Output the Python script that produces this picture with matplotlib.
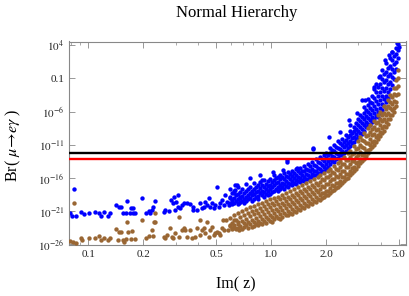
import numpy as np
import matplotlib.pyplot as plt
from matplotlib.ticker import FixedLocator, FixedFormatter, NullFormatter, NullLocator

plt.rcParams['font.family'] = ['Liberation Serif', 'DejaVu Serif']
plt.rcParams['mathtext.fontset'] = 'stix'

# experimental limits (horizontal lines)
br_black = 5.7e-13
br_red = 7e-14

# isolated points, (Im z, log10 Br)
blue_pts = [
    (0.083, -17.65), (0.0795, -21.3), (0.0815, -21.67), (0.085, -21.7), (0.091, -21.07),
    (0.095, -21.46), (0.1005, -21.2), (0.109, -21.07), (0.115, -21.2), (0.117, -21.67),
    (0.121, -21.16), (0.128, -21.7), (0.132, -21.2), (0.141, -20.06), (0.148, -20.4),
    (0.151, -20.4), (0.163, -19.4), (0.154, -21.3), (0.161, -21.2), (0.168, -21.3),
    (0.175, -21.2), (0.179, -21.3), (0.171, -20.47), (0.176, -20.47), (0.197, -19.05),
    (0.207, -21.3), (0.214, -20.9), (0.227, -20.4), (0.233, -19.4), (0.218, -21.3),
    (0.222, -20.8), (0.258, -21.07), (0.263, -20.81), (0.275, -20.92), (0.283, -19.31),
    (0.290, -19.8), (0.295, -18.81), (0.303, -19.56), (0.311, -18.56), (0.299, -20.81),
    (0.308, -20.32), (0.316, -20.56), (0.325, -20.06), (0.332, -19.8), (0.346, -19.8),
    (0.358, -19.91), (0.373, -20.32), (0.376, -20.81), (0.393, -20.81),
    (0.410, -19.8), (0.418, -20.56), (0.427, -20.32), (0.436, -19.56), (0.446, -20.06),
    (0.455, -19.05), (0.465, -20.32), (0.475, -19.8), (0.485, -20.56), (0.495, -20.06),
    (0.506, -17.4), (0.516, -20.32), (0.527, -19.8), (0.539, -19.31), (0.550, -20.06),
    (0.562, -18.56), (0.574, -19.56), (0.586, -20.06), (0.598, -19.05), (0.611, -19.8),
    (0.624, -18.3), (0.637, -17.8), (0.651, -17.05), (0.665, -19.8), (0.673, -18.8),
    (1.70, -11.53), (1.22, -13.55), (0.874, -15.55), (0.770, -16.05), (0.893, -16.3),
    (0.637, -17.05), (1.03, -15.05), (1.39, -14.54), (1.17, -14.8), (2.07, -9.79),
    (2.40, -9.04), (2.66, -7.28), (2.72, -8.03), (2.96, -6.27), (3.15, -4.27),
    (3.29, -4.27), (3.66, -2.27), (3.89, -0.77), (4.23, 1.74), (4.60, 3.0),
    (4.91, 4.26), (5.02, 3.75), (4.41, 2.5), (1.69, -11.68), (1.22, -13.3),
]
brown_pts = [
    (0.083, -19.7), (0.0795, -25.5), (0.082, -25.6), (0.085, -25.8), (0.091, -25.1),
    (0.092, -25.3), (0.1005, -25.1), (0.109, -25.1), (0.115, -24.8), (0.117, -25.3),
    (0.121, -25.1), (0.128, -25.3), (0.132, -25.1), (0.141, -23.6), (0.148, -24.1),
    (0.151, -24.1), (0.163, -22.6), (0.164, -24.1), (0.173, -23.9), (0.145, -25.3),
    (0.1545, -25.3), (0.161, -25.2), (0.1715, -25.2), (0.179, -25.2), (0.157, -25.6),
    (0.197, -22.3), (0.207, -25.1), (0.214, -24.8), (0.227, -24.8), (0.233, -22.6),
    (0.232, -21.22), (0.228, -22.57), (0.223, -23.82), (0.258, -24.83), (0.263, -25.07),
    (0.269, -24.57), (0.280, -23.56), (0.287, -24.83), (0.292, -25.07), (0.299, -24.32),
    (0.312, -21.82), (0.315, -24.83), (0.325, -23.82), (0.332, -23.56), (0.339, -23.82),
    (0.346, -24.83), (0.358, -23.82), (0.369, -25.07), (0.385, -24.83), (0.393, -23.56),
    (0.406, -22.32), (0.410, -24.57), (0.418, -23.82), (0.427, -23.56), (0.436, -24.32),
    (0.446, -22.57), (0.455, -24.83), (0.465, -23.82), (0.475, -23.32), (0.485, -24.57),
    (0.495, -24.32), (0.506, -24.08), (0.516, -24.32), (0.527, -24.57), (0.539, -23.56),
    (0.545, -22.32), (0.555, -23.82), (0.569, -22.32), (0.578, -23.82), (0.598, -23.07),
    (0.611, -23.56), (0.624, -22.32), (0.637, -23.56), (0.656, -22.57), (0.665, -23.82),
]

# dense band, Im z -> log10 Br values
blue_band = {
    0.598: [-17.6, -18.9, -19.7], 0.613: [-18.3, -19.3, -19.9], 0.629: [-17.9, -19.0, -19.8],
    0.645: [-18.6, -19.5], 0.662: [-17.3, -18.4, -19.2, -19.9], 0.679: [-18.1, -19.0, -19.6],
    0.696: [-17.6, -18.7, -19.4], 0.714: [-18.3, -19.1, -19.8], 0.732: [-16.9, -18.0, -18.8, -19.5],
    0.751: [-17.7, -18.5, -19.2], 0.770: [-17.3, -18.2, -19.0], 0.790: [-17.9, -18.6, -19.4],
    0.810: [-16.8, -17.6, -18.4, -19.1], 0.831: [-17.4, -18.1, -18.9], 0.852: [-17.1, -18.0, -18.7, -19.2],
    0.874: [-16.6, -17.5, -18.3], 0.896: [-17.0, -17.9, -18.6], 0.919: [-16.3, -17.3, -18.1, -18.9],
    0.943: [-16.9, -17.6, -18.4], 0.967: [-16.5, -17.2, -18.0, -18.6], 0.991: [-16.2, -17.0, -17.7, -18.4],
    1.017: [-16.6, -17.4, -18.1], 1.043: [-15.6, -16.3, -17.0, -17.9], 1.069: [-16.0, -16.8, -17.6],
    1.097: [-15.8, -16.6, -17.3, -18.0], 1.125: [-15.5, -16.2, -17.0, -17.7], 1.153: [-15.9, -16.7, -17.4],
    1.183: [-15.3, -16.1, -16.9, -17.6], 1.213: [-15.7, -16.5, -17.2], 1.244: [-15.1, -15.9, -16.7, -17.3],
    1.276: [-15.4, -16.2, -16.9], 1.309: [-14.9, -15.7, -16.5, -17.1], 1.342: [-15.2, -16.0, -16.7],
    1.377: [-14.6, -15.5, -16.3, -16.9], 1.412: [-15.0, -15.8, -16.5], 1.448: [-14.5, -15.3, -16.0, -16.6],
    1.485: [-14.9, -15.6, -16.3], 1.523: [-14.2, -15.0, -15.8, -16.4], 1.562: [-14.6, -15.4, -16.1],
    1.602: [-13.9, -14.8, -15.6, -16.2], 1.642: [-14.2, -15.0, -15.8], 1.684: [-13.6, -14.6, -15.4, -15.9],
    1.728: [-14.0, -14.9, -15.6], 1.772: [-13.2, -14.2, -15.0, -15.6], 1.817: [-13.6, -14.5, -15.3],
    1.863: [-12.9, -13.8, -14.6, -15.2], 1.911: [-13.2, -14.1, -14.9], 1.960: [-12.5, -13.4, -14.3, -15.0],
    2.010: [-12.2, -13.0, -13.9, -14.6], 2.061: [-12.6, -13.5, -14.3], 2.114: [-11.5, -12.3, -13.1, -13.9],
    2.168: [-11.8, -12.7, -13.5], 2.223: [-11.0, -11.9, -12.8, -13.6], 2.280: [-11.4, -12.3, -13.2],
    2.338: [-10.5, -11.5, -12.4, -13.0], 2.398: [-10.8, -11.6, -12.5], 2.459: [-10.2, -11.1, -11.9, -12.5],
    2.522: [-10.6, -11.4, -12.2], 2.587: [-9.5, -10.3, -11.1, -11.9], 2.653: [-9.8, -10.7, -11.5],
    2.720: [-8.9, -9.6, -10.4, -11.2], 2.790: [-9.2, -10.0, -10.8], 2.861: [-8.3, -9.0, -9.8, -10.6],
    2.934: [-7.7, -8.6, -9.4, -10.2], 3.009: [-7.2, -8.1, -9.0, -9.8], 3.086: [-6.6, -7.5, -8.4, -9.3],
    3.165: [-6.9, -7.8, -8.7, -9.4], 3.246: [-5.3, -6.2, -7.2, -8.1, -8.9], 3.329: [-5.8, -6.7, -7.6, -8.4],
    3.414: [-4.1, -5.0, -6.0, -7.0, -7.9], 3.501: [-4.5, -5.5, -6.4, -7.3, -8.0],
    3.591: [-3.6, -4.7, -5.8, -6.8, -7.6], 3.682: [-2.6, -3.9, -5.1, -6.2, -7.2],
    3.776: [-1.8, -3.1, -4.4, -5.6, -6.7], 3.873: [-2.3, -3.6, -4.9, -6.0, -6.8],
    3.972: [-0.6, -1.8, -3.0, -4.2, -5.4, -6.3], 4.073: [0.2, -1.1, -2.4, -3.6, -4.8, -5.8],
    4.177: [-0.3, -1.6, -2.9, -4.1, -5.1], 4.284: [1.3, 0.0, -1.2, -2.4, -3.6, -4.6],
    4.394: [0.6, -0.6, -1.8, -3.0, -4.0], 4.506: [2.1, 0.9, -0.3, -1.5, -2.6],
    4.621: [3.0, 1.7, 0.4, -0.8, -2.0], 4.739: [2.4, 1.2, 0.0, -1.1], 4.861: [3.6, 2.6, 1.5, 0.4],
    4.985: [4.2, 3.2, 2.1],
}
brown_band = {
    0.598: [-22.0, -23.2], 0.613: [-22.7, -23.6], 0.629: [-21.6, -23.0], 0.645: [-22.3, -23.7],
    0.662: [-21.2, -22.9, -23.5], 0.679: [-21.9, -23.2], 0.696: [-21.0, -22.5, -23.6],
    0.714: [-21.6, -22.8, -23.4], 0.732: [-20.7, -22.1, -23.1], 0.751: [-21.3, -22.6, -23.5],
    0.770: [-20.4, -21.7, -22.9], 0.790: [-21.0, -22.3, -23.3], 0.810: [-20.2, -21.4, -22.6, -23.2],
    0.831: [-20.8, -22.0, -22.9], 0.852: [-19.9, -21.2, -22.4, -23.1], 0.874: [-20.5, -21.7, -22.7],
    0.896: [-19.7, -20.9, -22.1, -22.9], 0.919: [-20.2, -21.4, -22.5], 0.943: [-19.4, -20.6, -21.8, -22.7],
    0.967: [-19.9, -21.1, -22.2], 0.991: [-19.2, -20.3, -21.5, -22.5], 1.017: [-19.7, -20.8, -21.9, -22.6],
    1.043: [-19.0, -20.1, -21.2, -22.2], 1.069: [-19.5, -20.6, -21.7], 1.097: [-18.8, -19.9, -21.0, -22.0],
    1.125: [-19.2, -20.3, -21.4, -22.1], 1.153: [-18.6, -19.7, -20.8, -21.8], 1.183: [-19.0, -20.1, -21.2],
    1.213: [-18.3, -19.4, -20.5, -21.5], 1.244: [-18.8, -19.9, -21.0, -21.6], 1.276: [-18.0, -19.1, -20.2, -21.2],
    1.309: [-18.5, -19.6, -20.7, -21.4], 1.342: [-17.7, -18.8, -19.9, -20.9], 1.377: [-18.2, -19.3, -20.4, -21.1],
    1.412: [-17.4, -18.5, -19.6, -20.6], 1.448: [-17.9, -19.0, -20.1, -20.8], 1.485: [-17.1, -18.2, -19.3, -20.3],
    1.523: [-17.6, -18.7, -19.8, -20.5], 1.562: [-16.8, -17.9, -19.0, -20.0], 1.602: [-17.3, -18.4, -19.5, -20.2],
    1.642: [-16.5, -17.6, -18.7, -19.7], 1.684: [-17.0, -18.1, -19.2, -19.9], 1.728: [-16.2, -17.3, -18.4, -19.4],
    1.772: [-16.7, -17.8, -18.9, -19.6], 1.817: [-15.9, -17.0, -18.1, -19.1],
    1.863: [-15.6, -16.6, -17.6, -18.6, -19.3], 1.911: [-16.1, -17.2, -18.3, -19.0],
    1.960: [-15.3, -16.3, -17.3, -18.3, -18.9], 2.010: [-15.8, -16.9, -17.9, -18.6],
    2.061: [-14.9, -15.9, -16.9, -17.9, -18.5], 2.114: [-14.6, -15.5, -16.5, -17.5, -18.2],
    2.168: [-15.1, -16.1, -17.1, -17.9], 2.223: [-14.2, -15.2, -16.2, -17.2, -17.8],
    2.280: [-14.7, -15.7, -16.7, -17.5], 2.338: [-13.8, -14.8, -15.8, -16.8, -17.3],
    2.398: [-13.5, -14.4, -15.4, -16.4, -17.0], 2.459: [-13.9, -14.9, -15.9, -16.7],
    2.522: [-12.9, -13.9, -14.9, -15.9, -16.5], 2.587: [-13.3, -14.4, -15.4, -16.2],
    2.653: [-12.3, -13.3, -14.4, -15.4, -16.0], 2.720: [-11.9, -12.9, -13.9, -14.9, -15.6],
    2.790: [-12.4, -13.5, -14.5, -15.3], 2.861: [-11.2, -12.3, -13.4, -14.4, -15.0],
    2.934: [-11.7, -12.8, -13.8, -14.6], 3.009: [-10.4, -11.5, -12.6, -13.6, -14.2],
    3.086: [-9.9, -11.0, -12.1, -13.1, -13.7], 3.165: [-10.3, -11.4, -12.5, -13.4],
    3.246: [-9.3, -10.4, -11.5, -12.5, -13.1], 3.329: [-9.7, -10.8, -11.9, -12.7],
    3.414: [-8.5, -9.6, -10.7, -11.8, -12.3], 3.501: [-8.1, -9.1, -10.1, -11.1, -11.6],
    3.591: [-8.6, -9.6, -10.6, -11.3], 3.682: [-7.4, -8.4, -9.4, -10.4, -11.0],
    3.776: [-7.8, -8.8, -9.8, -10.6], 3.873: [-6.6, -7.6, -8.6, -9.6, -10.2],
    3.972: [-6.1, -7.1, -8.1, -9.1, -9.7], 4.073: [-6.5, -7.5, -8.5, -9.3],
    4.177: [-5.2, -6.2, -7.2, -8.2, -8.9], 4.284: [-5.6, -6.6, -7.6, -8.4],
    4.394: [-4.2, -5.2, -6.2, -7.2, -7.9], 4.506: [-3.5, -4.5, -5.5, -6.5, -7.1],
    4.621: [-3.8, -4.8, -5.8, -6.5], 4.739: [-2.4, -3.4, -4.4, -5.4, -6.0],
    4.861: [-1.2, -2.4, -3.5, -4.6, -5.2], 4.985: [0.2, -1.0, -2.2, -3.3],
}

xticks = [0.1, 0.2, 0.5, 1.0, 2.0, 5.0]
xticklabels = ['0.1', '0.2', '0.5', '1.0', '2.0', '5.0']
yticks = [1e4, 1e-1, 1e-6, 1e-11, 1e-16, 1e-21, 1e-26]
yticklabels = ['$10^{4}$', '0.1', '$10^{-6}$', '$10^{-11}$', '$10^{-16}$', '$10^{-21}$', '$10^{-26}$']


def unpack(pts, band):
    xs = [p[0] for p in pts]
    ys = [p[1] for p in pts]
    for k, v in band.items():
        xs += [k] * len(v)
        ys += v
    return np.array(xs), 10.0 ** np.array(ys)


bx, by = unpack(blue_pts, blue_band)
rx, ry = unpack(brown_pts, brown_band)

fig = plt.figure(figsize=(4.09, 2.96), dpi=100)
ax = fig.add_axes([69 / 409, 51 / 296, 336.5 / 409, 203.5 / 296])

ax.scatter(bx, by, s=10, color='#0000ff', linewidths=0, zorder=2)
ax.scatter(rx, ry, s=10, color='#996633', linewidths=0, zorder=3)
ax.axhline(br_black, color='black', lw=1.7, zorder=4)
ax.axhline(br_red, color='#ff0000', lw=1.7, zorder=4)

ax.set_xscale('log')
ax.set_yscale('log')
ax.set_xlim(0.0783, 5.45)
ax.set_ylim(10 ** -26.08, 10 ** 4.53)

ax.xaxis.set_major_locator(FixedLocator(xticks))
ax.xaxis.set_major_formatter(FixedFormatter(xticklabels))
ax.xaxis.set_minor_locator(FixedLocator([0.08, 0.09, 0.3, 0.4, 0.6, 0.7, 0.8, 0.9, 3, 4]))
ax.xaxis.set_minor_formatter(NullFormatter())
ax.yaxis.set_major_locator(FixedLocator(yticks))
ax.yaxis.set_major_formatter(FixedFormatter(yticklabels))
ax.yaxis.set_minor_locator(NullLocator())

ax.tick_params(which='both', direction='in', top=True, right=True, color='#888888', labelsize=8, labelcolor='#222222')
ax.tick_params(which='major', length=4, width=0.6)
ax.tick_params(which='minor', length=2, width=0.5)
for sp in ax.spines.values():
    sp.set_color('#888888')
    sp.set_linewidth(0.8)

fig.text(237 / 409, 1 - 13 / 296, 'Normal Hierarchy', ha='center', va='center', fontsize=12)
fig.text(236 / 409, 1 - 284 / 296, 'Im( z)', ha='center', va='center', fontsize=11.5)
fig.text(13 / 409, 1 - 145 / 296, r'Br( $\mu\!\rightarrow\! e\gamma$ )', ha='center', va='center',
         rotation=90, fontsize=11.5)

fig.savefig('out.png', dpi=100)
